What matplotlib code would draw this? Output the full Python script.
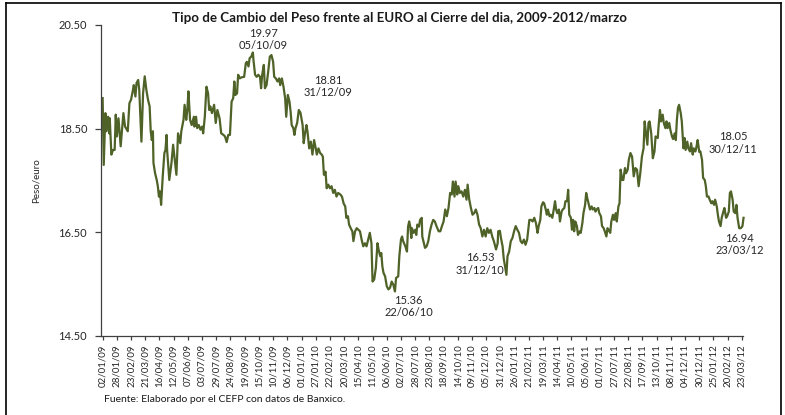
# coding: utf-8
"""Tipo de cambio peso/euro al cierre del dia, 2009-2012/marzo"""

import numpy as np
import matplotlib
matplotlib.use('Agg')
import matplotlib.pyplot as plt
from matplotlib.lines import Line2D

plt.rcParams['font.family'] = ['Lato', 'DejaVu Sans']

# dias transcurridos desde el 02/01/2009
dias = [0, 2, 5, 7, 10, 12, 13, 16, 19, 22, 24, 26, 29, 33, 38, 41, 46, 49, 52, 55,
        57, 60, 62, 65, 67, 71, 74, 77, 80, 83, 86, 88, 90, 92, 93, 96, 99, 101, 103, 105,
        107, 110, 113, 115, 117, 118, 122, 126, 129, 132, 135, 138, 142, 144, 148, 150, 153, 155, 157, 160,
        163, 167, 168, 171, 173, 176, 179, 182, 184, 187, 190, 193, 195,
        197, 200, 204, 207, 210, 214, 217, 221, 224, 227, 230, 233, 236, 239, 241, 243, 246, 248, 251, 254,
        259, 262, 264, 267, 269, 272, 275, 276, 279, 282, 285, 288, 290, 292, 295, 297, 300, 303, 306, 309,
        312, 314, 317, 320, 323, 325, 328, 331, 334, 336, 339, 342, 344, 346, 349, 351, 353, 356, 359, 362,
        366, 368, 370, 373, 375, 378, 381, 384, 387, 390,
        392, 395, 398, 401, 403, 405, 408, 410, 413, 416, 419, 422, 425, 428, 431, 435, 438, 441, 444, 446,
        449, 451, 454, 457, 459, 462, 465, 468, 471, 474, 477, 480, 483, 486, 489, 492, 494, 497, 500, 503,
        505, 508, 510, 512, 514, 517, 520, 523, 526, 529, 532, 535, 537, 541, 543, 546, 548, 550, 554, 557,
        559, 561, 563, 565, 566, 569, 572, 574, 576, 579, 581, 584,
        585, 588, 590, 593, 596, 599, 602, 605, 608, 611, 615, 618, 621, 624, 627, 630, 633, 636, 639, 641,
        644, 646, 649, 651, 654, 657, 660, 663, 666, 668, 671, 674, 677, 680, 683, 686, 689, 692, 695, 698,
        701, 704, 707, 710, 713, 716, 720, 723, 724, 727, 729, 732, 734, 737, 739, 741, 744, 747, 750, 753,
        756, 759, 762, 765, 768, 771, 774, 777,
        779, 781, 784, 787, 790, 793, 796, 798, 801, 803, 806, 808, 811, 813, 815, 818, 820, 823, 825, 828,
        830, 832, 835, 837, 840, 842, 845, 847, 850, 852, 854, 857, 859, 861, 863, 865, 868, 870, 873, 875,
        878, 880, 883, 885, 887, 890, 892, 895, 897, 900, 902, 904, 907, 909, 912, 914, 917, 919, 922, 924,
        926, 929, 931, 934, 936, 939, 941, 944, 946, 948, 951, 953, 956, 958, 961, 963, 966,
        969, 972, 975, 978, 981, 984, 987, 990, 992, 994, 997, 999, 1001, 1004, 1007, 1010, 1012, 1016, 1017, 1020,
        1022, 1025, 1027, 1030, 1032, 1034, 1037, 1039, 1042, 1044, 1047, 1049, 1051, 1053, 1055, 1058, 1060, 1063, 1065, 1067,
        1070, 1072, 1075, 1077, 1080, 1082, 1085, 1087, 1089, 1092, 1094, 1097, 1099, 1102, 1104, 1106, 1109, 1111, 1114, 1116,
        1119, 1121, 1124, 1126, 1128, 1131, 1133, 1136, 1138, 1141, 1143, 1146, 1148, 1150, 1153, 1155, 1158, 1160, 1162, 1165,
        1168, 1171, 1173]

# pesos por euro
peso_euro = [19.09, 17.80, 18.80, 18.45, 18.73, 18.41, 18.70, 18.00, 18.09, 18.09, 18.77, 18.35, 18.70, 18.16, 18.80, 18.54, 18.45, 18.99, 19.06, 19.22,
             19.34, 19.12, 19.38, 19.44, 19.25, 18.25, 19.18, 19.51, 19.25, 19.06, 18.93, 18.45, 18.28, 18.45, 17.84, 17.64, 17.51, 17.39, 17.19, 17.29,
             17.03, 17.58, 18.03, 18.09, 18.38, 18.09, 17.51, 17.84, 18.19, 17.90, 17.61, 18.41, 18.22, 18.45, 18.67, 18.96, 18.67, 18.86, 19.22, 18.67,
             18.57, 18.73, 18.54, 18.73, 18.51, 18.57, 18.48, 18.54, 18.41, 18.73, 19.31, 19.18, 18.86,
             18.93, 18.80, 18.96, 18.61, 18.86, 18.70, 18.41, 18.38, 18.35, 18.24, 18.38, 18.38, 19.02, 19.09, 19.41, 19.15, 19.18, 19.54, 19.47, 19.49,
             19.50, 19.76, 19.79, 19.70, 19.86, 19.89, 19.97, 19.83, 19.54, 19.50, 19.54, 19.50, 19.28, 19.54, 19.73, 19.28, 19.34, 19.60, 19.89, 19.92,
             19.79, 19.50, 19.47, 19.41, 19.47, 19.34, 19.47, 19.31, 19.09, 18.73, 19.15, 19.02, 18.83, 18.57, 18.51, 18.38, 18.51, 18.61, 18.86, 18.81,
             18.57, 18.22, 18.38, 18.57, 18.44, 18.12, 18.25, 18.00, 18.28, 18.12,
             18.00, 18.12, 18.03, 18.00, 17.96, 17.61, 17.67, 17.35, 17.42, 17.35, 17.39, 17.26, 17.32, 17.19, 17.26, 17.23, 17.19, 17.06, 17.00, 16.78,
             16.81, 16.65, 16.58, 16.52, 16.33, 16.52, 16.58, 16.55, 16.52, 16.36, 16.23, 16.29, 16.23, 16.36, 16.49, 16.29, 15.55, 15.59, 15.81, 16.29,
             16.17, 16.04, 16.10, 15.84, 15.72, 15.65, 15.46, 15.40, 15.43, 15.55, 15.49, 15.36, 15.62, 15.65, 16.04, 16.36, 16.42, 16.33, 16.23, 16.13,
             16.61, 16.71, 16.61, 16.39, 16.58, 16.49, 16.55, 16.45, 16.65, 16.61, 16.74, 16.78,
             16.42, 16.29, 16.20, 16.23, 16.33, 16.52, 16.65, 16.74, 16.71, 16.62, 16.52, 16.52, 16.62, 16.71, 16.94, 16.81, 16.97, 17.26, 17.23, 17.48,
             17.19, 17.48, 17.23, 17.39, 17.26, 17.29, 17.19, 17.32, 17.13, 17.42, 17.13, 16.97, 16.84, 16.87, 16.94, 16.84, 16.65, 16.58, 16.42, 16.55,
             16.42, 16.58, 16.49, 16.55, 16.42, 16.33, 16.17, 16.29, 16.52, 16.53, 16.39, 16.23, 16.00, 15.81, 15.68, 16.04, 16.13, 16.33, 16.39, 16.52,
             16.62, 16.55, 16.49, 16.33, 16.29, 16.36, 16.26, 16.36,
             16.55, 16.74, 16.74, 16.71, 16.78, 16.68, 16.49, 16.62, 16.74, 17.00, 17.08, 17.06, 16.94, 16.84, 16.94, 16.81, 16.84, 16.78, 16.90, 17.10,
             16.94, 16.87, 16.94, 16.71, 16.90, 16.94, 16.97, 17.10, 17.10, 17.32, 16.84, 16.78, 16.55, 16.74, 16.52, 16.71, 16.62, 16.45, 16.52, 16.49,
             16.68, 16.87, 17.03, 17.26, 17.16, 17.03, 16.94, 17.00, 16.94, 16.97, 16.90, 16.94, 16.97, 16.87, 16.81, 16.62, 16.58, 16.52, 16.42, 16.58,
             16.55, 16.49, 16.71, 16.84, 16.74, 16.87, 16.71, 17.00, 17.06, 17.71, 17.51, 17.51, 17.74, 17.64, 17.71, 17.90, 18.03,
             17.96, 17.58, 17.74, 17.71, 17.39, 17.64, 17.96, 18.12, 18.64, 18.45, 18.19, 18.61, 18.64, 18.41, 17.93, 18.06, 18.35, 18.32, 18.48, 18.86,
             18.64, 18.77, 18.61, 18.51, 18.64, 18.51, 18.61, 18.48, 18.35, 18.30, 18.41, 18.28, 18.67, 18.90, 18.96, 18.80, 18.64, 18.12, 18.32, 18.09,
             18.25, 18.12, 18.06, 18.22, 18.00, 18.12, 18.06, 18.16, 18.28, 18.05, 18.06, 17.90, 17.55, 17.51, 17.39, 17.19, 17.19, 17.13, 17.06, 17.10,
             17.03, 17.13, 17.00, 16.84, 16.71, 16.62, 16.78, 16.90, 16.97, 16.78, 16.81, 16.90, 17.26, 17.29, 17.13, 16.90, 16.87, 17.03, 16.78, 16.58,
             16.58, 16.62, 16.78]

# etiquetas del eje x (cada 26 dias)
etiquetas_x = ['02/01/09', '28/01/09', '23/02/09', '21/03/09', '16/04/09', '12/05/09', '07/06/09', '03/07/09',
               '29/07/09', '24/08/09', '19/09/09', '15/10/09', '10/11/09', '06/12/09', '01/01/10', '27/01/10',
               '22/02/10', '20/03/10', '15/04/10', '11/05/10', '06/06/10', '02/07/10', '28/07/10', '23/08/10',
               '18/09/10', '14/10/10', '09/11/10', '05/12/10', '31/12/10', '26/01/11', '21/02/11', '19/03/11',
               '14/04/11', '10/05/11', '05/06/11', '01/07/11', '27/07/11', '22/08/11', '17/09/11', '13/10/11',
               '08/11/11', '04/12/11', '30/12/11', '25/01/12', '20/02/12', '23/03/12']
paso_x = 26

# puntos señalados: dia, valor, fecha
marcas_dia = [276, 363, 536, 728, 1092, 1173]
marcas_valor = [19.97, 18.81, 15.36, 16.53, 18.05, 16.94]
marcas_fecha = ['05/10/09', '31/12/09', '22/06/10', '31/12/10', '30/12/11', '23/03/12']
# desplazamiento del texto (pixeles)
marcas_offset = [(10, 13), (27, 26), (13, -15), (-20, -33), (34, 9), (-4, -35)]

verde = '#4f6228'
gris = '#262626'

fig = plt.figure(figsize=(7.85, 4.15), dpi=100)
ax = fig.add_axes([101/785, 79/415, 642/785, 311/415])

ax.plot(dias, peso_euro, color=verde, lw=1.6, solid_joinstyle='round', clip_on=False)

for d, v, f, off in zip(marcas_dia, marcas_valor, marcas_fecha, marcas_offset):
    ax.annotate('{:.2f}\n{}'.format(v, f), xy=(d, v), xytext=off, textcoords='offset pixels',
                ha='center', va='center', multialignment='center', fontsize=8,
                color=gris, linespacing=1.2, annotation_clip=False)

ax.set_xlim(-3, 1172)
ax.set_ylim(14.5, 20.5)
ax.set_yticks([14.5, 16.5, 18.5, 20.5])
ax.set_yticklabels(['{:.2f}'.format(t) for t in [14.5, 16.5, 18.5, 20.5]])
ax.set_xticks(np.arange(len(etiquetas_x)) * paso_x)
ax.set_xticklabels(etiquetas_x, rotation=90)

for s in ['top', 'right']:
    ax.spines[s].set_visible(False)
for s in ['left', 'bottom']:
    ax.spines[s].set_color('#404040')
    ax.spines[s].set_linewidth(0.9)
ax.tick_params(axis='y', direction='out', length=4, width=0.9, color='#404040',
               labelsize=8, labelcolor=gris, pad=6)
ax.tick_params(axis='x', direction='out', length=3, width=0.9, color='#404040',
               labelsize=7, labelcolor=gris, pad=3)

ax.set_ylabel('Peso/euro', fontsize=7, color=gris, labelpad=13)

fig.text(400/785, 1 - 18/415, 'Tipo de Cambio del Peso frente al EURO al Cierre del dia, 2009-2012/marzo',
         ha='center', va='center', fontsize=9.6, fontweight='bold', color='#1a1a1a')
fig.text(104/785, 1 - 399/415, 'Fuente: Elaborado por el CEFP con datos de Banxico.',
         ha='left', va='center', fontsize=7.5, color='#1a1a1a')

# marco exterior
for xs, ys in [([6, 781], [3, 3]), ([781, 781], [3, 415]), ([6, 6], [3, 415])]:
    fig.add_artist(Line2D([x/785 for x in xs], [1 - y/415 for y in ys], color='black', lw=1.2))

fig.savefig('out.png', dpi=100)
